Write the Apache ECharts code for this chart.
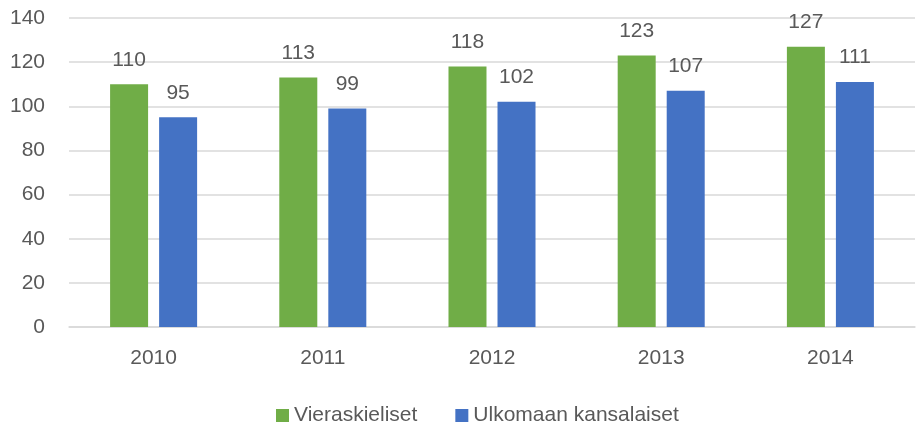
<!DOCTYPE html>
<html>
<head>
<meta charset="utf-8">
<script src="https://cdn.jsdelivr.net/npm/echarts@6/dist/echarts.min.js"></script>
<style>html,body{margin:0;padding:0;background:#fff}#c{width:919px;height:425px}</style>
</head>
<body>
<div id="c"></div>
<script>
const categories = ['2010', '2011', '2012', '2013', '2014'];
const vieraskieliset = [110, 113, 118, 123, 127];
const ulkomaan = [95, 99, 102, 107, 111];
const seriesNames = ['Vieraskieliset', 'Ulkomaan kansalaiset'];

const chart = echarts.init(document.getElementById('c'));
const font = 'Liberation Sans, Arial, sans-serif';
const textColor = '#595959';
chart.setOption({
  animation: false,
  textStyle: { fontFamily: font },
  grid: { left: 69, right: 4, top: 18, bottom: 98, containLabel: false },
  legend: {
    top: 400, left: 271, itemWidth: 13, itemHeight: 13, itemGap: 38,
    icon: 'rect',
    textStyle: { fontSize: 21, color: textColor, fontFamily: font },
    data: seriesNames
  },
  xAxis: {
    type: 'category', data: categories,
    axisLine: { lineStyle: { color: '#D9D9D9', width: 1.5 } },
    axisTick: { show: false },
    axisLabel: { fontSize: 21, color: textColor, margin: 21 }
  },
  yAxis: {
    type: 'value', min: 0, max: 140, interval: 20,
    axisLine: { show: false }, axisTick: { show: false },
    splitLine: { lineStyle: { color: '#D9D9D9', width: 1.5 } },
    axisLabel: { fontSize: 21, color: textColor, margin: 24 }
  },
  series: [
    {
      name: seriesNames[0], type: 'bar', data: vieraskieliset,
      barWidth: 38, barGap: '29%',
      itemStyle: { color: '#70AD47' },
      label: { show: true, position: 'top', distance: 14, fontSize: 21, color: textColor }
    },
    {
      name: seriesNames[1], type: 'bar', data: ulkomaan,
      barWidth: 38,
      itemStyle: { color: '#4472C4' },
      label: { show: true, position: 'top', distance: 14, fontSize: 21, color: textColor }
    }
  ]
});
</script>
</body>
</html>
